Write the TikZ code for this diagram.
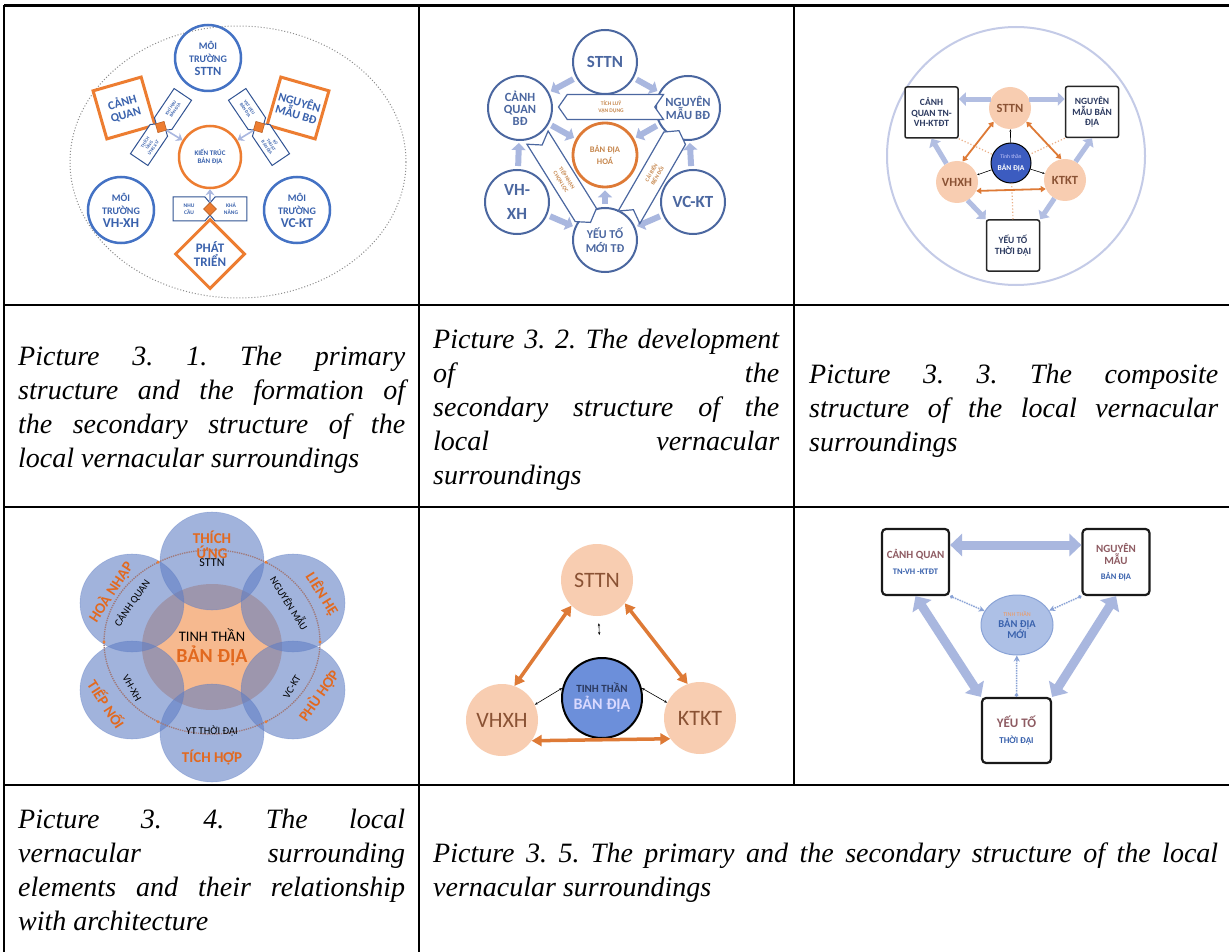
\documentclass[tikz,border=0pt]{standalone}
\usepackage{fontspec}
\setmainfont{Liberation Serif}
\newfontfamily\dgfont{Carlito}
\usetikzlibrary{arrows.meta,shapes.geometric,shapes.symbols}

\definecolor{dblue}{HTML}{4472C4}
\definecolor{tblue}{HTML}{3A62AD}
\definecolor{dorange}{HTML}{ED7D31}
\definecolor{lblue}{HTML}{A9B7DF}
\definecolor{sblue}{HTML}{4B67A0}
\definecolor{navy}{HTML}{2C3A60}
\definecolor{peach}{HTML}{F8CDB1}
\definecolor{brownt}{HTML}{8A5234}
\definecolor{rose}{HTML}{8E5B62}
\definecolor{lav}{HTML}{C4CBE7}
\definecolor{petal}{HTML}{5E7DC4}
\definecolor{corefill}{HTML}{F6B98F}
\definecolor{ringdot}{HTML}{A07878}
\definecolor{otext}{HTML}{E2691F}
\definecolor{midblue}{HTML}{6C8FDA}
\definecolor{deepblue}{HTML}{3C5CC0}
\definecolor{pale}{HTML}{ADC0E6}
\definecolor{paleline}{HTML}{8AA3D6}
\definecolor{bannertxt}{HTML}{C7884F}
\definecolor{linkor}{HTML}{DE7A36}

\newcommand{\fsz}[2]{\fontsize{#1}{#2}\selectfont}
\newcommand{\capline}[2]{\makebox[#1][s]{#2}}

\begin{document}
\begin{tikzpicture}[x=1pt, y=-1pt,
    rule/.style={line width=1.8pt},
    caption/.style={anchor=north west, inner sep=0pt, align=left, font=\itshape\fsz{28}{34}\frenchspacing},
    dg/.style={inner sep=0pt, align=center},
    % picture 3.1
    ring1/.style={dg, circle, draw=dblue, line width=2.5pt, minimum size=66pt, text=tblue},
    core1/.style={dg, circle, draw=dorange, line width=2.5pt, minimum size=62pt, text=tblue},
    quad1/.style={dg, rectangle, draw=dorange, line width=3pt, minimum size=50pt, text=tblue},
    diam1/.style={dg, diamond, draw=dorange, line width=3pt, minimum width=70pt, minimum height=70pt, text=tblue},
    tag1/.style={dg, signal, signal pointer angle=100, draw=tblue!85!black, line width=1pt, fill=white,
      minimum width=44pt, minimum height=21pt, text=tblue, font=\dgfont\bfseries\fsz{4.5}{5}},
    knot1/.style={rectangle, fill=dorange, draw=dorange!80!black, line width=0.6pt, minimum size=9pt, inner sep=0pt},
    thin1/.style={draw=lblue, line width=1.6pt, -{Stealth[length=6pt, width=9pt]}},
    % picture 3.2
    ring2/.style={dg, circle, draw=sblue, line width=2pt, minimum size=64pt, text=sblue},
    core2/.style={dg, circle, draw=linkor, line width=2.8pt, minimum size=64pt, text=bannertxt},
    banner2/.style={dg, signal, signal pointer angle=110, draw=sblue, line width=1.2pt, fill=white,
      minimum height=25pt, text=bannertxt, font=\dgfont\bfseries\fsz{5.5}{7}},
    block2/.style={draw=lblue, line width=6pt, -{Triangle[length=7pt, width=14pt]}},
    % picture 3.3
    ring3/.style={dg, circle, fill=peach, minimum size=42pt, text=brownt, font=\dgfont\bfseries\fsz{12.5}{14}},
    mind3/.style={dg, circle, fill=deepblue, draw=black, line width=1pt, minimum size=40pt, text=white},
    box3/.style={dg, rectangle, rounded corners=2pt, draw=black!85, line width=1.5pt, fill=white,
      minimum width=53pt, minimum height=51pt, text=navy, font=\dgfont\bfseries\fsz{9.5}{10.5}},
    block3/.style={draw=lblue!90!white, line width=5pt, -{Triangle[length=7pt, width=13pt]}},
    link3/.style={draw=linkor, line width=1.8pt, {Triangle[length=5pt, width=6pt]}-{Triangle[length=5pt, width=6pt]}},
    dots3/.style={draw=linkor!60, line width=1.2pt, dotted},
    tick3/.style={draw=black, line width=0.6pt, -{Stealth[length=2.5pt]}},
    % picture 3.4
    lab4/.style={dg, text=otext, font=\dgfont\bfseries\fsz{15}{15}},
    txt4/.style={dg, text=black, font=\dgfont\fsz{10.5}{12}},
    % picture 3.5
    ring5/.style={dg, circle, fill=peach, minimum size=72pt, text=brownt, font=\dgfont\fsz{22}{24}},
    mind5/.style={dg, circle, fill=midblue, draw=black, line width=2pt, minimum size=80pt, font=\dgfont\bfseries\fsz{11}{17}},
    link5/.style={draw=linkor, line width=3.5pt, {Triangle[length=10pt, width=11pt]}-{Triangle[length=10pt, width=11pt]}},
    tick5/.style={draw=black, line width=0.6pt, {Stealth[length=3pt]}-{Stealth[length=3pt]}},
    % picture 3.6
    box6/.style={dg, rectangle, rounded corners=4pt, draw=black!90, line width=2.2pt, fill=white,
      minimum width=67pt, minimum height=66pt},
    mind6/.style={dg, ellipse, fill=pale, draw=paleline, line width=1pt, minimum width=72pt, minimum height=60pt,
      text=tblue, font=\dgfont\bfseries\fsz{10.5}{10.5}},
    block6/.style={draw=lblue, line width=9pt, {Triangle[length=12pt, width=22pt]}-{Triangle[length=12pt, width=22pt]}},
    dot6/.style={draw=paleline, line width=1.5pt, densely dotted, {Circle[length=3.5pt]}-{Stealth[length=6pt, width=6pt]}}
  ]
  \useasboundingbox (0,0) rectangle (1229,952);
  \fill[white] (0,0) rectangle (1229,952);

  % table rules
  \draw[rule, line width=3pt] (4,6) -- (1229,6);
  \draw[rule] (4,5) -- (4,952);
  \draw[rule] (419,6) -- (419,952);
  \draw[rule] (794,6) -- (794,785);
  \draw[rule] (4,305) -- (1229,305);
  \draw[rule] (4,507) -- (1229,507);
  \draw[rule] (4,785) -- (1229,785);

  % Picture 3.1
  \draw[dotted, line width=1pt, black!45] (238,162) ellipse [x radius=168, y radius=136];
  \node[ring1, font=\dgfont\bfseries\fsz{10}{13}] (sttn1) at (208,58) {MÔI\\TRƯỜNG\\\fsz{12.5}{13}STTN};
  \node[ring1, font=\dgfont\bfseries\fsz{10}{13}] (vhxh1) at (121,210) {MÔI\\TRƯỜNG\\\fsz{13.5}{14}VH-XH};
  \node[ring1, font=\dgfont\bfseries\fsz{10}{13}] (vckt1) at (297,210) {MÔI\\TRƯỜNG\\\fsz{13.5}{14}VC-KT};
  \node[core1, font=\dgfont\bfseries\fsz{7}{8.5}] (kt1) at (210,157) {KIẾN TRÚC\\BẢN ĐỊA};
  \node[quad1, rotate=16, font=\dgfont\bfseries\fsz{12}{12.5}] (cq1) at (124,108) {CẢNH\\QUAN};
  \node[quad1, rotate=-16, font=\dgfont\bfseries\fsz{12}{12.5}] (ng1) at (298,108) {NGUYÊN\\MẪU BĐ};
  \node[diam1, font=\dgfont\bfseries\fsz{13}{14}] (pt1) at (210,254) {PHÁT\\TRIỂN};
  \node[tag1, rotate=56, signal to=west] (kh1) at (173,109) {KHÍ HẬU\\BẢN ĐỊA};
  \node[tag1, rotate=56, signal to=east] (tu1) at (149,145) {THÍCH\\ỨNG\\ỨNG XỬ};
  \node[tag1, rotate=-56, signal to=east] (vl1) at (247,109) {VẬT LIỆU\\BẢN ĐỊA};
  \node[tag1, rotate=-56, signal to=west] (kth1) at (271,145) {KỸ\\THUẬT\\BẢN ĐỊA};
  \node[tag1, signal to=east, minimum width=42pt, minimum height=24pt, font=\dgfont\bfseries\fsz{5.5}{7}] (nc1) at (189,209) {NHU\\CẦU};
  \node[tag1, signal to=west, minimum width=42pt, minimum height=24pt, font=\dgfont\bfseries\fsz{5.5}{7}] (kn1) at (231,209) {KHẢ\\NĂNG};
  \node[knot1, rotate=16] (d1) at (161,127) {};
  \node[knot1, rotate=-16] (d2) at (259,127) {};
  \node[knot1, rotate=45] (d3) at (210,209) {};
  \draw[thin1] (d1) -- (kt1);
  \draw[thin1] (d2) -- (kt1);
  \draw[thin1] (d3) -- (kt1);

  % Picture 3.2
  \node[ring2, font=\dgfont\bfseries\fsz{17}{18}] (sttn2) at (605,62) {STTN};
  \node[ring2, font=\dgfont\bfseries\fsz{12.5}{12}] (cq2) at (520,108) {CẢNH\\QUAN\\BĐ};
  \node[ring2, font=\dgfont\bfseries\fsz{12.5}{12.5}] (ng2) at (688,108) {NGUYÊN\\MẪU BĐ};
  \node[ring2, font=\dgfont\bfseries\fsz{17}{24}] (vh2) at (517,202) {VH-\\XH};
  \node[ring2, font=\dgfont\bfseries\fsz{17}{18}] (vc2) at (693,202) {VC-KT};
  \node[ring2, font=\dgfont\bfseries\fsz{12}{14}] (yt2) at (605,240) {YẾU TỐ\\MỚI TĐ};
  \node[core2, font=\dgfont\bfseries\fsz{8.5}{12}] (hoa2) at (605,155) {BẢN ĐỊA\\HOÁ};
  \foreach \from/\to in {sttn2/cq2, sttn2/ng2, cq2/hoa2, ng2/hoa2, vh2/cq2, vc2/ng2, vh2/yt2, vc2/yt2, yt2/hoa2}
    \draw[block2, shorten <=3pt, shorten >=2pt] (\from) -- (\to);
  \node[banner2, signal to=west, signal from=east, minimum width=105pt] (tl2) at (611,107) {TÍCH LUỸ\\VẬN DỤNG};
  \node[banner2, rotate=-58, signal to=east, signal from=west, minimum width=100pt] (tn2) at (564,180) {TIẾP NHẬN\\CHỌN LỌC};
  \node[banner2, rotate=60, signal to=east, signal from=west, minimum width=100pt] (cb2) at (654,174) {CẢI BIẾN\\BIẾN ĐỔI};

  % Picture 3.3
  \draw[line width=2pt, lav] (1016,156) circle [radius=129pt];
  \node[box3] (cq3) at (931.5,112.5) {CẢNH\\QUAN TN-\\VH-KTĐT};
  \node[box3] (ng3) at (1092,112) {NGUYÊN\\MẪU BẢN\\ĐỊA};
  \node[box3] (yt3) at (1013,245.5) {YẾU TỐ\\THỜI ĐẠI};
  \node[ring3] (sttn3) at (1010,108) {STTN};
  \node[ring3] (vh3) at (957,182) {VHXH};
  \node[ring3] (kt3) at (1065,180) {KTKT};
  \node[mind3, font=\dgfont\bfseries\fsz{7.5}{12}] (bd3) at (1011,163) {\color{white!80!blue}\mdseries\fsz{5.5}{6}Tinh thần\\BẢN ĐỊA};
  \draw[block3] (sttn3.155) -- (sttn3.155 -| cq3.east);
  \draw[block3] (sttn3.25) -- (sttn3.25 -| ng3.west);
  \draw[block3] (vh3.120) -- (cq3.south);
  \draw[block3] (kt3.60) -- (ng3.south);
  \draw[block3] (vh3.-60) -- (yt3.north west);
  \draw[block3] (kt3.-120) -- (yt3.north east);
  \draw[dots3] (cq3.south east) -- (bd3);
  \draw[dots3] (ng3.south west) -- (bd3);
  \draw[dots3] (yt3.north) -- (bd3);
  \draw[link3] (sttn3.220) -- (vh3.75);
  \draw[link3] (sttn3.-40) -- (kt3.100);
  \draw[link3] (vh3.-25) -- (kt3.-155);
  \draw[tick3] (bd3) -- (sttn3);
  \draw[tick3] (bd3) -- (vh3);
  \draw[tick3] (bd3) -- (kt3);

  % Picture 3.4
  \fill[corefill] (212,647) ellipse [x radius=70, y radius=63];
  \foreach \px/\py in {212/561, 293/603, 293/690, 212/733, 132/690, 132/603}
    \filldraw[fill=petal, fill opacity=0.58, draw=petal, draw opacity=0.35, line width=0.6pt]
      (\px,\py) ellipse [x radius=52, y radius=49];
  \draw[densely dotted, line width=1.3pt, ringdot] (212,642) ellipse [x radius=108, y radius=92];
  \foreach \a in {0,60,...,300}
    \fill[dorange] ([shift={(212,642)}]\a:108 and 92) circle [radius=1.6pt];
  \node[lab4] (thich4) at (212,545) {THÍCH\\ỨNG};
  \node[txt4, font=\dgfont\fsz{12}{12}] (sttn4) at (212,563) {STTN};
  \node[lab4, rotate=-58] (lien4) at (322,594) {LIÊN HỆ};
  \node[lab4, rotate=55] (phu4) at (319,696) {PHÙ HỢP};
  \node[lab4] (tich4) at (212,758) {TÍCH HỢP};
  \node[lab4, rotate=-57] (tiep4) at (107,704) {TIẾP NỐI};
  \node[lab4, rotate=57] (hoa4) at (111,592) {HOÀ NHẬP};
  \node[txt4, rotate=55] (cq4) at (132,603) {CẢNH QUAN};
  \node[txt4, rotate=-58] (ng4) at (290,603) {NGUYÊN MẪU};
  \node[txt4, rotate=-60] (vh4) at (132,688) {VH-XH};
  \node[txt4, rotate=60] (vc4) at (292,687) {VC-KT};
  \node[txt4] (yt4) at (212,731) {YT THỜI ĐẠI};
  \node[txt4, font=\dgfont\fsz{14.5}{16}] (tt4) at (212,635) {TINH THẦN};
  \node[lab4, font=\dgfont\bfseries\fsz{20}{22}] (bd4) at (212,656) {BẢN ĐỊA};

  % Picture 3.5
  \node[ring5] (sttn5) at (597,580) {STTN};
  \node[ring5] (vh5) at (502,720) {VHXH};
  \node[ring5] (kt5) at (700,718) {KTKT};
  \node[mind5] (bd5) at (602,698) {\color{navy}TINH THẦN\\\color{white!85!blue}\fsz{16}{17}BẢN ĐỊA};
  \draw[link5] (sttn5.225) -- (vh5.70);
  \draw[link5] (sttn5.-40) -- (kt5.110);
  \draw[link5] (vh5.-35) -- (kt5.215);
  \draw[tick5, shorten <=22pt, shorten >=7pt] (bd5) -- (sttn5);
  \draw[tick5] (vh5.25) -- (bd5.166);
  \draw[tick5] (bd5.14) -- (kt5.155);

  % Picture 3.6
  \node[box6, font=\dgfont\bfseries\fsz{11}{16.5}] (cq6) at (915.5,562) {\color{rose}CẢNH QUAN\\\color{tblue}\fsz{8.5}{10}TN-VH -KTĐT};
  \node[box6, font=\dgfont\bfseries\fsz{11}{12}] (ng6) at (1116,562) {\color{rose}NGUYÊN\\\color{rose}MẪU\\[3pt]\color{tblue}\fsz{8.5}{10}BẢN ĐỊA};
  \node[box6, minimum width=69pt, minimum height=65pt, font=\dgfont\bfseries\fsz{13}{16.5}] (yt6) at (1016.5,730.5) {\color{rose}YẾU TỐ\\\color{tblue}\fsz{9}{10}THỜI ĐẠI};
  \node[mind6] (bd6) at (1017,625) {\color{dorange!80}\mdseries\fsz{6}{7}TINH THẦN\\BẢN ĐỊA\\MỚI};
  \draw[block6] ([yshift=17pt]cq6.east) -- ([yshift=17pt]ng6.west);
  \draw[block6] (cq6.south) -- (yt6.north west);
  \draw[block6] (ng6.south) -- (yt6.north east);
  \draw[dot6] (cq6.south east) -- (bd6);
  \draw[dot6] (ng6.south west) -- (bd6);
  \draw[dot6] (yt6.north) -- (bd6);

  % captions
  \node[caption] (cap1) at (18,346) {\capline{387pt}{Picture 3. 1. The primary}\\\capline{387pt}{structure and the formation of}\\\capline{387pt}{the secondary structure of the}\\local vernacular surroundings};
  \node[caption] (cap2) at (433,329) {\capline{346pt}{Picture 3. 2. The development}\\\capline{346pt}{of the}\\\capline{346pt}{secondary structure of the}\\\capline{346pt}{local vernacular}\\surroundings};
  \node[caption] (cap3) at (809,364) {\capline{409pt}{Picture 3. 3. The composite}\\\capline{409pt}{structure of the local vernacular}\\surroundings};
  \node[caption] (cap4) at (18,809) {\capline{387pt}{Picture 3. 4. The local}\\\capline{387pt}{vernacular surrounding}\\\capline{387pt}{elements and their relationship}\\with architecture};
  \node[caption] (cap5) at (433,843) {\capline{785pt}{Picture 3. 5. The primary and the secondary structure of the local}\\vernacular surroundings};
\end{tikzpicture}
\end{document}
